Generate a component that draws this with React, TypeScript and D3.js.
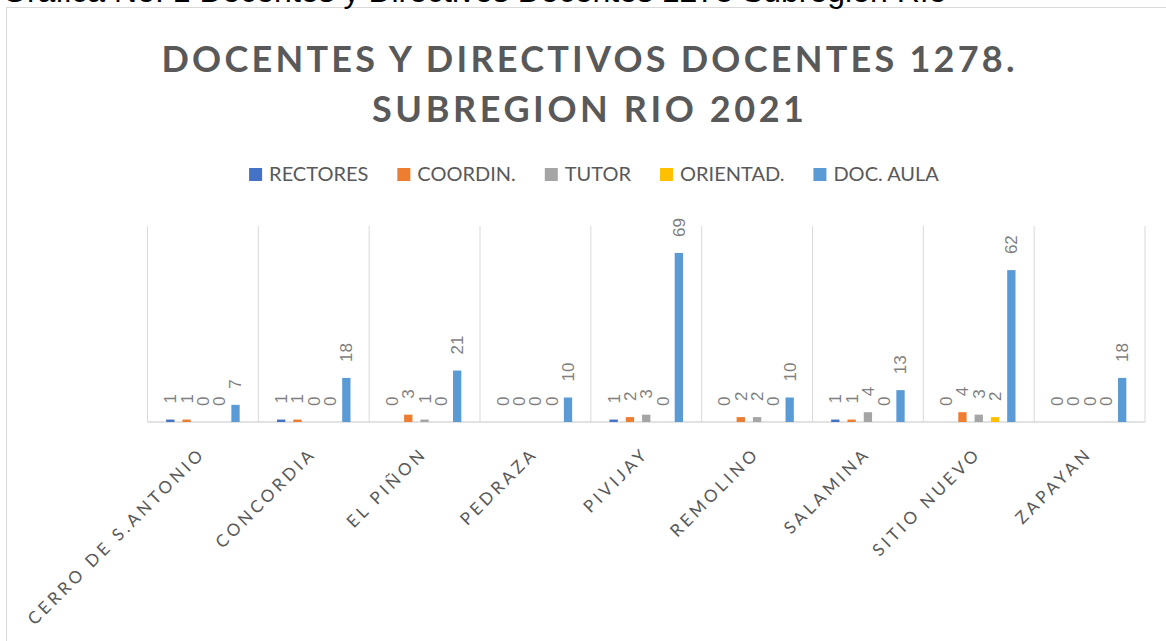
import React, { useEffect, useRef } from "react";
import * as d3 from "d3";

const categories = ["CERRO DE S.ANTONIO", "CONCORDIA", "EL PIÑON", "PEDRAZA", "PIVIJAY", "REMOLINO", "SALAMINA", "SITIO NUEVO", "ZAPAYAN"];
const seriesNames = ["RECTORES", "COORDIN.", "TUTOR", "ORIENTAD.", "DOC. AULA"];
const rectores = [1, 1, 0, 0, 1, 0, 1, 0, 0];
const coordin = [1, 1, 3, 0, 2, 2, 1, 4, 0];
const tutor = [0, 0, 1, 0, 3, 2, 4, 3, 0];
const orientad = [0, 0, 0, 0, 0, 0, 0, 2, 0];
const docAula = [7, 18, 21, 10, 69, 10, 13, 62, 18];
const seriesColors = ["#4472C4", "#ED7D31", "#A5A5A5", "#FFC000", "#5B9BD5"];
const titleLines = ["DOCENTES Y DIRECTIVOS DOCENTES 1278.", "SUBREGION RIO 2021"];
const captionText = "Gráfica No. 1 Docentes y Directivos Docentes 1278 Subregión Río";

const W = 1166;
const H = 641;

export default function App() {
  const ref = useRef<SVGSVGElement>(null);

  useEffect(() => {
    const svg = d3.select(ref.current);
    svg.selectAll("*").remove();

    const values = [rectores, coordin, tutor, orientad, docAula];
    const plot = { left: 147.5, right: 1145, top: 226, bottom: 422 };

    // chart border
    svg.append("rect").attr("x", 6.5).attr("y", 7.5).attr("width", 1200).attr("height", 700).attr("fill", "#fff").attr("stroke", "#D9D9D9").attr("stroke-width", 1);

    // caption cut off at top of the page
    svg.append("text").attr("x", 2).attr("y", 1.5).attr("font-family", "Liberation Sans, Arial").attr("font-size", 32).attr("fill", "#000").text(captionText);

    // title
    const titleTargets = [853, 432];
    titleLines.forEach((t, i) => {
      const el = svg.append("text").attr("x", 588).attr("y", 71.5 + i * 50).attr("text-anchor", "middle")
        .attr("font-family", "Lato").attr("font-weight", 700).attr("font-size", 36).attr("fill", "#595959").text(t);
      const w = (el.node() as SVGTextElement).getComputedTextLength();
      const ls = (titleTargets[i] - w) / (t.length - 1);
      el.attr("letter-spacing", ls).attr("dx", ls / 2);
    });

    // legend
    const legend = svg.append("g");
    let lx = 0;
    seriesNames.forEach((name, i) => {
      legend.append("rect").attr("x", lx).attr("y", 168).attr("width", 13).attr("height", 13).attr("fill", seriesColors[i]);
      const t = legend.append("text").attr("x", lx + 20).attr("y", 181).attr("font-family", "Lato").attr("font-size", 20)
        .attr("fill", "#595959").text(name);
      const w = (t.node() as SVGTextElement).getComputedTextLength();
      lx += 20 + w + (i < seriesNames.length - 1 ? 29 : 0);
    });
    legend.attr("transform", `translate(${594 - lx / 2},0)`);

    const x0 = d3.scaleBand<string>().domain(categories).range([plot.left, plot.right]).padding(0);
    const groupW = 73.5;
    const x1 = d3.scaleBand<string>().domain(seriesNames).range([0, groupW]).paddingInner(0.49).paddingOuter(0);
    const y = d3.scaleLinear().domain([0, 80]).range([plot.bottom, plot.top]);

    // vertical gridlines
    const bounds = categories.map((c) => x0(c)!).concat([plot.right]);
    svg.append("g").selectAll("line").data(bounds).join("line")
      .attr("x1", (d) => d).attr("x2", (d) => d).attr("y1", plot.top).attr("y2", plot.bottom)
      .attr("stroke", "#D9D9D9").attr("stroke-width", 1);

    // axis line
    svg.append("line").attr("x1", plot.left).attr("x2", plot.right).attr("y1", plot.bottom).attr("y2", plot.bottom)
      .attr("stroke", "#D9D9D9").attr("stroke-width", 1.5);

    const off = (x0.bandwidth() - groupW) / 2;
    seriesNames.forEach((s, si) => {
      const g = svg.append("g");
      categories.forEach((c, ci) => {
        const v = values[si][ci];
        const bx = x0(c)! + off + x1(s)!;
        const bw = x1.bandwidth();
        if (v > 0) {
          g.append("rect").attr("x", bx).attr("y", y(v)).attr("width", bw).attr("height", y(0) - y(v)).attr("fill", seriesColors[si]);
        }
        const cx = bx + bw / 2;
        const ly = y(v) - 16;
        g.append("text").attr("transform", `translate(${cx},${ly}) rotate(-90)`).attr("dy", "0.35em")
          .attr("font-family", "Liberation Sans, Arial").attr("font-size", 17).attr("fill", "#7F7F7F").text(String(v));
      });
    });

    // category labels
    const ls = 3.5;
    categories.forEach((c) => {
      const cx = x0(c)! + x0.bandwidth() / 2;
      svg.append("text").attr("transform", `translate(${cx + 1 + ls * 0.707},${457 - ls * 0.707}) rotate(-45)`)
        .attr("text-anchor", "end").attr("font-family", "Lato").attr("font-size", 17).attr("letter-spacing", ls)
        .attr("fill", "#595959").text(c);
    });
  }, []);

  return (
    <div style={{ position: "fixed", left: 0, top: 0, width: W, height: H, background: "#fff" }}>
      <svg ref={ref} width={W} height={H} style={{ display: "block" }} />
    </div>
  );
}
